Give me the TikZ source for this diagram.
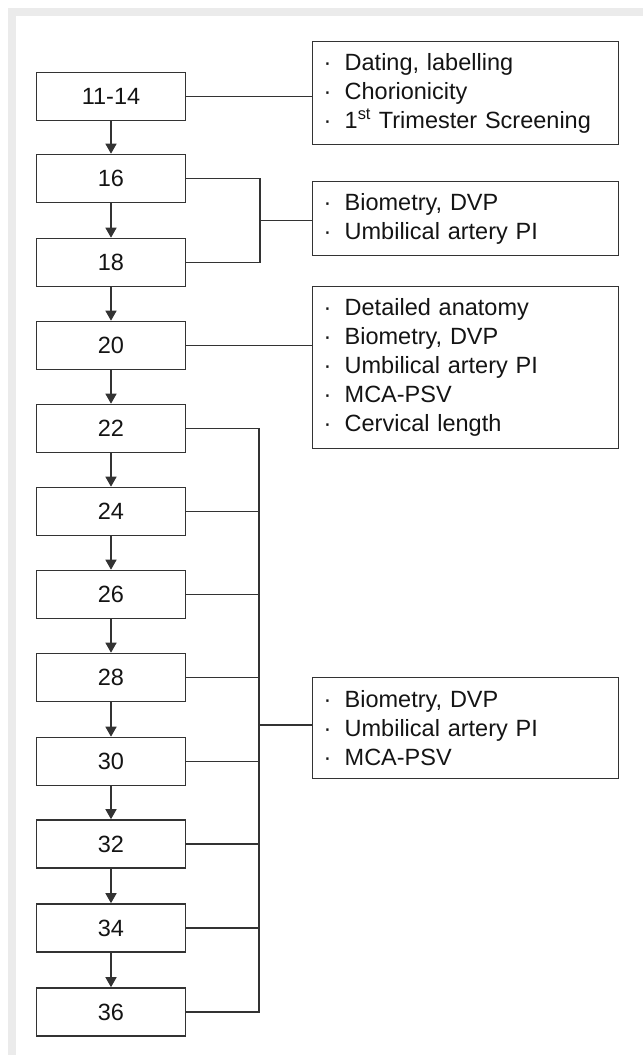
\documentclass[tikz,border=0pt]{standalone}
\usepackage{fontspec}
\setmainfont{Liberation Sans}
\usetikzlibrary{arrows.meta}
\definecolor{frame}{HTML}{EBEBEB}
\definecolor{ln}{HTML}{333333}
\definecolor{tx}{HTML}{141414}
\newcommand{\bul}{\makebox[21pt][l]{·}}
\begin{document}
\begin{tikzpicture}[x=1pt,y=-1pt,
  week/.style={draw=ln, line width=1.6pt, minimum width=149pt, minimum height=48pt,
    inner sep=0pt, text=tx, font=\fontsize{23.5}{28}\selectfont},
  info/.style={draw=ln, line width=1.4pt, anchor=north west, text width=284pt,
    inner xsep=11pt, inner ysep=0pt, align=left, text=tx,
    font=\fontsize{23.5}{29}\selectfont},
  conn/.style={draw=ln, line width=1.5pt},
  flow/.style={draw=ln, line width=1.5pt, -{Triangle[length=10pt,width=11pt]}}]
\useasboundingbox (0,0) rectangle (643,1055);
\fill[white] (0,0) rectangle (643,1055);
\fill[frame] (8,8) rectangle (643,16);
\fill[frame] (8,8) rectangle (16,1055);

\node[week] (b1) at (111,96.5) {11-14};
\node[week] (b2) at (111,178.5) {16};
\node[week] (b3) at (111,262.5) {18};
\node[week] (b4) at (111,345.5) {20};
\node[week] (b5) at (111,428.5) {22};
\node[week] (b6) at (111,511.5) {24};
\node[week] (b7) at (111,594.5) {26};
\node[week] (b8) at (111,677.5) {28};
\node[week] (b9) at (111,761.5) {30};
\node[week] (b10) at (111,844) {32};
\node[week] (b11) at (111,928) {34};
\node[week] (b12) at (111,1012) {36};

\node[info, minimum height=103pt] (r1) at (312,41)
  {\bul Dating, labelling\\ \bul Chorionicity\\ \bul 1\textsuperscript{st} Trimester Screening};
\node[info, minimum height=74pt] (r2) at (312,181)
  {\bul Biometry, DVP\\ \bul Umbilical artery PI};
\node[info, minimum height=162pt] (r3) at (312,286)
  {\bul Detailed anatomy\\ \bul Biometry, DVP\\ \bul Umbilical artery PI\\ \bul MCA-PSV\\ \bul Cervical length};
\node[info, minimum height=101pt] (r4) at (312,677)
  {\bul Biometry, DVP\\ \bul Umbilical artery PI\\ \bul MCA-PSV};

\foreach \a/\b in {b1/b2,b2/b3,b3/b4,b4/b5,b5/b6,b6/b7,b7/b8,b8/b9,b9/b10,b10/b11,b11/b12}
  \draw[flow] (\a.south) -- (\b.north);

\coordinate (bus2) at (260,220.5);
\coordinate (bus3) at (259,725);

\draw[conn] (b1.east) -- (b1.east -| r1.west);
\draw[conn] (b2.east) -- (b2.east -| bus2) -- (b3.east -| bus2) -- (b3.east);
\draw[conn] (bus2) -- (bus2 -| r2.west);
\draw[conn] (b4.east) -- (b4.east -| r3.west);
\draw[conn] (b5.east) -- (b5.east -| bus3) -- (b12.east -| bus3) -- (b12.east);
\foreach \n in {b6,b7,b8,b9,b10,b11}
  \draw[conn] (\n.east) -- (\n.east -| bus3);
\draw[conn] (bus3) -- (bus3 -| r4.west);
\end{tikzpicture}
\end{document}
